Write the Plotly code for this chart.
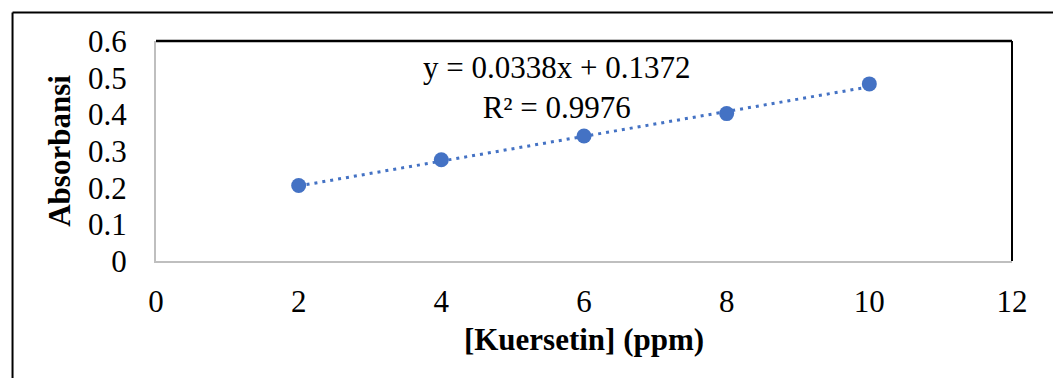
import plotly.graph_objects as go

# Data
konsentrasi = [2, 4, 6, 8, 10]               # [Kuersetin] (ppm)
absorbansi = [0.206, 0.276, 0.341, 0.402, 0.483]
slope = 0.0338
intercept = 0.1372
r2 = 0.9976
x_ticks = [0, 2, 4, 6, 8, 10, 12]
y_ticks = [0, 0.1, 0.2, 0.3, 0.4, 0.5, 0.6]

blue = "#4472C4"
font_family = "Liberation Serif, Times New Roman, serif"
fs = 31

trend_x = [min(konsentrasi), max(konsentrasi)]
trend_y = [slope * v + intercept for v in trend_x]

fig = go.Figure()
fig.add_trace(go.Scatter(
    x=trend_x, y=trend_y, mode="lines",
    line=dict(color=blue, width=3, dash="3px,5px"),
    hoverinfo="skip", showlegend=False,
))
fig.add_trace(go.Scatter(
    x=konsentrasi, y=absorbansi, mode="markers",
    marker=dict(color=blue, size=15),
    showlegend=False,
))

fig.add_annotation(
    x=0.468, y=0.789, xref="paper", yref="paper",
    xanchor="center", yanchor="middle",
    text=f"y = {slope}x + {intercept}<br>R² = {r2}",
    showarrow=False, align="center",
    font=dict(family=font_family, size=fs, color="black"),
)

fig.update_layout(
    width=1053, height=378,
    margin=dict(l=156, r=41, t=41, b=117),
    paper_bgcolor="white", plot_bgcolor="white",
    font=dict(family=font_family, size=fs, color="black"),
    xaxis=dict(
        range=[0, 12], tickvals=x_ticks, ticktext=[str(v) for v in x_ticks],
        showgrid=False, zeroline=False, automargin=False,
        showline=True, linecolor="#bfbfbf", linewidth=2,
        ticks="", ticklabelstandoff=12,
        title=dict(text="<b>[Kuersetin] (ppm)</b>", standoff=10,
                   font=dict(family=font_family, size=fs)),
    ),
    yaxis=dict(
        range=[0, 0.6], tickvals=y_ticks, ticktext=[f"{v:g}" for v in y_ticks],
        showgrid=False, zeroline=False, automargin=False,
        showline=True, linecolor="#bfbfbf", linewidth=2,
        ticks="", ticklabelstandoff=21,
        title=dict(text="<b>Absorbansi</b>", standoff=8,
                   font=dict(family=font_family, size=fs)),
    ),
    shapes=[
        # plot area top and right borders (black)
        dict(type="line", xref="paper", yref="paper", x0=0, x1=1, y0=1, y1=1,
             line=dict(color="black", width=2.5)),
        dict(type="line", xref="paper", yref="paper", x0=1, x1=1, y0=0, y1=1,
             line=dict(color="black", width=2)),
        # outer frame (left and top)
        dict(type="line", xref="paper", yref="paper", x0=-0.1676, x1=-0.1676, y0=-1, y1=1.1295,
             line=dict(color="black", width=2)),
        dict(type="line", xref="paper", yref="paper", x0=-0.1676, x1=2, y0=1.1295, y1=1.1295,
             line=dict(color="black", width=2)),
    ],
)

fig.write_html(
    "out.html",
    config={"displayModeBar": False},
    post_script="document.body.style.margin='0';document.body.style.padding='0';",
)
